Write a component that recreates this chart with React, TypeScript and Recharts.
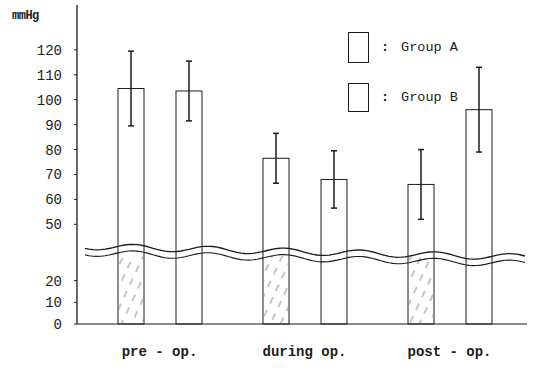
import { Bar, BarChart, ErrorBar, ReferenceLine, XAxis, YAxis } from 'recharts';

const categories = ['pre - op.', 'during op.', 'post - op.'];
const groupA = [104.5, 76.5, 66];
const groupAErr = [15, 10, 14];
const groupB = [103.5, 68, 96];
const groupBErr = [12, 11.5, 17];
const yTickLabels = [0, 10, 20, 50, 60, 70, 80, 90, 100, 110, 120];
const legendLabels = ['Group A', 'Group B'];

// broken axis: 0-20 squeezed a little, 20-50 cut out
const toPlot = (v: number) => (v <= 20 ? v * 0.87 : v - 10);
const fromPlot = (p: number) => {
  const hit = yTickLabels.find((t) => Math.abs(toPlot(t) - p) < 0.01);
  return hit === undefined ? '' : String(hit);
};

const data = categories.map((name, i) => ({
  name,
  a: toPlot(groupA[i]),
  aErr: groupAErr[i],
  b: toPlot(groupB[i]),
  bErr: groupBErr[i],
}));

const INK = '#1c1c1c';
const MONO = '"Liberation Mono", "DejaVu Sans Mono", monospace';

function OutlineBar(props: any) {
  const { x, y, width, height, hatched } = props;
  const hatchH = Math.min(68, height);
  return (
    <g>
      <rect x={x} y={y} width={width} height={height} fill="#fff" stroke={INK} strokeWidth={1} />
      {hatched && (
        <rect x={x + 1} y={y + height - hatchH} width={width - 2} height={hatchH} fill="url(#hatchA)" />
      )}
    </g>
  );
}

function BreakWave(props: any) {
  const { x1, x2, y1 } = props;
  const seg = (offset: number) => {
    const pts: string[] = [];
    for (let x = x1 + 8; x <= x2; x += 4) {
      const t = (x - x1) / (x2 - x1);
      const y = y1 + offset + t * 11 + Math.sin((x - x1) / 12) * 3.2;
      pts.push(`${x.toFixed(1)},${y.toFixed(1)}`);
    }
    return 'M' + pts.join(' L');
  };
  return (
    <g>
      <path d={seg(-3)} fill="none" stroke={INK} strokeWidth={1.3} />
      <path d={seg(3.5)} fill="none" stroke={INK} strokeWidth={1.1} />
    </g>
  );
}

function GroupLegend() {
  return (
    <div style={{ position: 'absolute', left: 348, top: 32, fontFamily: MONO, fontSize: 13.5, color: INK }}>
      {legendLabels.map((label, i) => (
        <div key={label} style={{ display: 'flex', alignItems: 'center', height: 30, marginBottom: i === 0 ? 20 : 0 }}>
          <div style={{ width: 19, height: i === 0 ? 29 : 27, border: `1px solid ${INK}`, background: '#fff' }} />
          <span style={{ marginLeft: 12, fontWeight: 700 }}>:</span>
          <span style={{ marginLeft: 12 }}>{label}</span>
        </div>
      ))}
    </div>
  );
}

export default function App() {
  return (
    <div style={{ position: 'absolute', left: 0, top: 0, width: 533, height: 368, background: '#fff' }}>
      <BarChart
        width={533}
        height={368}
        data={data}
        margin={{ top: 5, right: 6, bottom: 14, left: 0 }}
        barSize={26}
        barGap={32}
      >
        <defs>
          <pattern id="hatchA" width="9" height="14" patternUnits="userSpaceOnUse" patternTransform="rotate(25)">
            <line x1="4" y1="0" x2="4" y2="7" stroke="#8a8a8a" strokeWidth={1} />
          </pattern>
        </defs>
        <XAxis
          dataKey="name"
          height={30}
          padding={{ left: 10, right: 5 }}
          tickLine={false}
          tickSize={0}
          tickMargin={22}
          axisLine={{ stroke: INK, strokeWidth: 1.2 }}
          tick={{ fill: INK, fontFamily: MONO, fontSize: 14, fontWeight: 700 }}
        />
        <YAxis
          type="number"
          width={77}
          domain={[0, 128]}
          ticks={yTickLabels.map(toPlot)}
          tickFormatter={fromPlot}
          interval={0}
          tickSize={3}
          tickMargin={12}
          axisLine={{ stroke: INK, strokeWidth: 1.3 }}
          tickLine={{ stroke: INK }}
          tick={{ fill: INK, fontFamily: MONO, fontSize: 14 }}
        />
        <Bar dataKey="a" isAnimationActive={false} shape={<OutlineBar hatched />}>
          <ErrorBar dataKey="aErr" width={3} stroke={INK} strokeWidth={1.5} isAnimationActive={false} />
        </Bar>
        <Bar dataKey="b" isAnimationActive={false} shape={<OutlineBar />}>
          <ErrorBar dataKey="bErr" width={3} stroke={INK} strokeWidth={1.5} isAnimationActive={false} />
        </Bar>
        <ReferenceLine y={30} ifOverflow="visible" shape={<BreakWave />} />
      </BarChart>
      <div
        style={{
          position: 'absolute',
          left: 12,
          top: 9,
          fontFamily: MONO,
          fontSize: 12,
          fontWeight: 700,
          color: INK,
          letterSpacing: -0.5,
        }}
      >
        mmHg
      </div>
      <GroupLegend />
    </div>
  );
}
